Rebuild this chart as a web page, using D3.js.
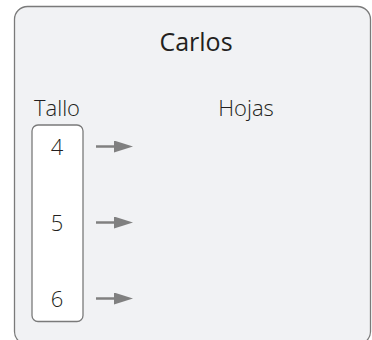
<!DOCTYPE html>
<html><head><meta charset="utf-8">
<script src="https://cdn.jsdelivr.net/npm/d3@7"></script>
<style>
html,body{margin:0;padding:0;background:#fff;}
svg{display:block;}
text{font-family:"Open Sans","Noto Sans",sans-serif;}
</style></head>
<body>
<script>
const title = "Carlos";
const stemHeader = "Tallo";
const leafHeader = "Hojas";
const stems = [4, 5, 6];
const leaves = [[], [], []];

const W = 372, H = 340;
const svg = d3.select("body").append("svg").attr("width", W).attr("height", H);

svg.append("rect")
  .attr("x", 14.5).attr("y", 6.5).attr("width", 356).attr("height", 338)
  .attr("rx", 13).attr("fill", "#f1f2f4").attr("stroke", "#7a7a7a").attr("stroke-width", 1.3);

svg.append("text").attr("x", 196).attr("y", 51).attr("text-anchor", "middle")
  .attr("font-size", 25).attr("fill", "#231f20").text(title);

svg.append("text").attr("x", 57).attr("y", 115.5).attr("text-anchor", "middle")
  .attr("font-size", 22).attr("font-weight", 300).attr("fill", "#231f20").text(stemHeader);
svg.append("text").attr("x", 246).attr("y", 115.5).attr("text-anchor", "middle")
  .attr("font-size", 22).attr("font-weight", 300).attr("fill", "#231f20").text(leafHeader);

const y = d3.scalePoint().domain(stems).range([146.5, 298.5]);

svg.append("rect")
  .attr("x", 32).attr("y", 125).attr("width", 51).attr("height", 196.5)
  .attr("rx", 6).attr("fill", "#fff").attr("stroke", "#7a7a7a").attr("stroke-width", 1.3);

svg.append("defs").append("marker")
  .attr("id", "ah").attr("viewBox", "0 0 10 10").attr("refX", 0).attr("refY", 5)
  .attr("markerWidth", 19).attr("markerHeight", 12).attr("markerUnits", "userSpaceOnUse")
  .attr("orient", "auto").attr("preserveAspectRatio", "none")
  .append("path").attr("d", "M0,0L10,5L0,10Z").attr("fill", "#808080");

const rows = svg.selectAll("g.row").data(stems).join("g").attr("class", "row");
rows.append("text").attr("x", 57).attr("y", d => y(d) + 8).attr("text-anchor", "middle")
  .attr("font-size", 22).attr("font-weight", 300).attr("fill", "#231f20").text(d => d);
rows.append("line").attr("x1", 96).attr("x2", 114).attr("y1", d => y(d)).attr("y2", d => y(d))
  .attr("stroke", "#808080").attr("stroke-width", 2.5).attr("marker-end", "url(#ah)");
rows.append("text").attr("x", 145).attr("y", d => y(d) + 8)
  .attr("font-size", 22).attr("fill", "#231f20")
  .text((d, i) => leaves[i].join(" "));
</script>
</body></html>
